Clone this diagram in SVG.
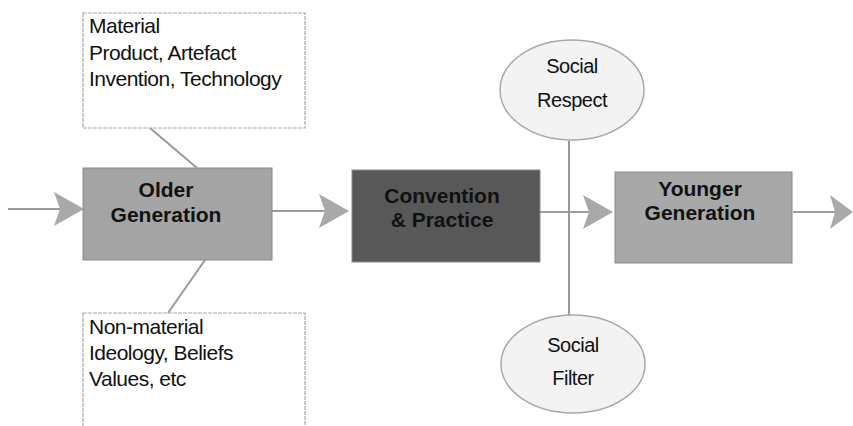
<svg xmlns="http://www.w3.org/2000/svg" width="853" height="426" viewBox="0 0 853 426">
<style>
.note{fill:#fff;stroke:#a8a8a8;stroke-width:1.2;stroke-dasharray:4 1}
.nt{font-family:"Liberation Sans",Arial,sans-serif;font-size:21px;fill:#111;letter-spacing:-0.5px}
.box{stroke:#8a8a8a;stroke-width:1}
.bt{font-family:"Liberation Sans",Arial,sans-serif;font-size:21px;font-weight:bold;fill:#111;text-anchor:middle}
.ell{fill:#f3f3f3;stroke:#a8a8a8;stroke-width:1.5}
.et{font-family:"Liberation Sans",Arial,sans-serif;font-size:20px;fill:#111;text-anchor:middle;letter-spacing:-0.5px}
.conn{stroke:#9c9c9c;stroke-width:2.2;fill:none}
.thin{stroke:#999;stroke-width:2;fill:none}
</style>
<defs>
<marker id="ah" viewBox="0 0 30 34" refX="29" refY="17" markerWidth="30" markerHeight="34" markerUnits="userSpaceOnUse" orient="auto">
<path d="M0,0 L30,17 L0,34 L6,17 Z" fill="#a9a9a9"/>
</marker>
<marker id="ah2" viewBox="0 0 23 34" refX="22" refY="17" markerWidth="23" markerHeight="34" markerUnits="userSpaceOnUse" orient="auto">
<path d="M0,0 L23,17 L0,34 L5,17 Z" fill="#a9a9a9"/>
</marker>
</defs>
<g id="connectors">
<path class="conn" d="M8,209 L83,209" marker-end="url(#ah)"/>
<path class="conn" d="M272,211 L348,211" marker-end="url(#ah)"/>
<path class="conn" d="M540,212 L612,212" marker-end="url(#ah)"/>
<path class="conn" d="M793,212 L852,212" marker-end="url(#ah2)"/>
<path class="thin" d="M150,128 L197,168"/>
<path class="thin" d="M205,260 L168,313"/>
<path class="thin" d="M569,141 L569,315"/>
</g>
<g id="material">
<rect class="note" x="83" y="13" width="222" height="115"/>
<text class="nt" x="89" y="33">Material</text>
<text class="nt" x="89" y="60">Product, Artefact</text>
<text class="nt" x="89" y="86">Invention, Technology</text>
</g>
<g id="nonmaterial">
<rect class="note" x="83" y="313" width="222" height="125"/>
<text class="nt" x="89" y="334">Non-material</text>
<text class="nt" x="89" y="360">Ideology, Beliefs</text>
<text class="nt" x="89" y="386">Values, etc</text>
</g>
<g id="older">
<rect class="box" x="83" y="168" width="189" height="92" fill="#a4a4a4"/>
<text class="bt" x="166" y="197">Older</text>
<text class="bt" x="166" y="222">Generation</text>
</g>
<g id="convention">
<rect class="box" x="352" y="170" width="188" height="92" fill="#585858"/>
<text class="bt" x="442" y="203">Convention</text>
<text class="bt" x="442" y="227">&amp; Practice</text>
</g>
<g id="younger">
<rect class="box" x="615" y="172" width="177" height="91" fill="#a8a8a8"/>
<text class="bt" x="700" y="196">Younger</text>
<text class="bt" x="700" y="220">Generation</text>
</g>
<g id="respect">
<ellipse class="ell" cx="572" cy="90" rx="72" ry="50"/>
<text class="et" x="572" y="73">Social</text>
<text class="et" x="572" y="107">Respect</text>
</g>
<g id="filter">
<ellipse class="ell" cx="573" cy="364" rx="72" ry="49"/>
<text class="et" x="573" y="352">Social</text>
<text class="et" x="573" y="385">Filter</text>
</g>
</svg>
